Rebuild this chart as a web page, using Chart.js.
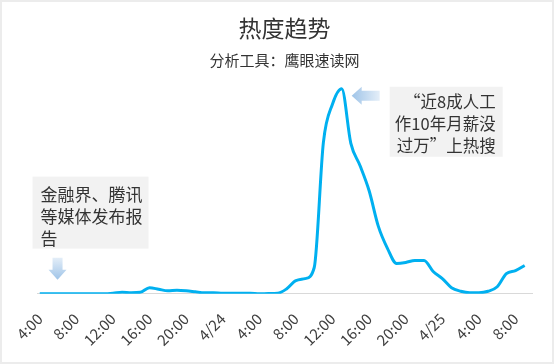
<!DOCTYPE html>
<html>
<head>
<meta charset="utf-8">
<script src="https://cdn.jsdelivr.net/npm/chart.js@4"></script>
<style>
    body { margin: 0; background: #fff; }
    #wrap { position: relative; width: 554px; height: 364px; }
    #frame { position: absolute; left: 0; top: 0; width: 554px; height: 364px; box-sizing: border-box; border: 2px solid #ececec; pointer-events: none; }
    canvas { position: absolute; left: 0; top: 0; }
</style>
</head>
<body>
<div id="wrap">
    <canvas id="heat-canvas" width="554" height="364"></canvas>
    <div id="frame"></div>
</div>
<script>
// hourly heat values, starting 4/23 4:00
const heatValues = [
    0, 0, 0, 0, 0, 0, 0, 0, 0.5, 1.5,
    1, 1.5, 6, 4.5, 3, 3.5, 3, 2, 1, 1,
    0.5, 0.5, 0.5, 0.5, 0, 0.3, 0.5, 5, 13, 15,
    26, 150, 188, 203, 149, 127, 102, 67, 45, 30,
    31, 33, 33, 22, 15, 6, 2.5, 1, 1, 2.5,
    7, 20, 23, 28
];
const hours = heatValues.map((v, i) => i);

const tickHours = [0, 4, 8, 12, 16, 20, 24, 28, 32, 36, 40, 44, 48, 52];
const tickLabels = ['4:00', '8:00', '12:00', '16:00', '20:00', '4/24', '4:00', '8:00', '12:00', '16:00', '20:00', '4/25', '4:00', '8:00'];

const chartTitle = '热度趋势';
const chartSubtitle = '分析工具：鹰眼速读网';

const noteLeft = ['金融界、腾讯', '等媒体发布报', '告'];
const noteRight = ['“近8成人工', '作10年月薪没', '过万”上热搜'];
const noteLeftHour = 2;
const notePeakHour = 33;

const FONT = '"Noto Sans CJK SC", "Noto Sans", sans-serif';

function blockArrow(ctx, dir, x, y, len, headLen, headW, shaftW) {
    // x, y = tip
    ctx.beginPath();
    if (dir === 'down') {
        ctx.moveTo(x, y);
        ctx.lineTo(x - headW / 2, y - headLen);
        ctx.lineTo(x - shaftW / 2, y - headLen);
        ctx.lineTo(x - shaftW / 2, y - len);
        ctx.lineTo(x + shaftW / 2, y - len);
        ctx.lineTo(x + shaftW / 2, y - headLen);
        ctx.lineTo(x + headW / 2, y - headLen);
    } else {
        ctx.moveTo(x, y);
        ctx.lineTo(x + headLen, y - headW / 2);
        ctx.lineTo(x + headLen, y - shaftW / 2);
        ctx.lineTo(x + len, y - shaftW / 2);
        ctx.lineTo(x + len, y + shaftW / 2);
        ctx.lineTo(x + headLen, y + shaftW / 2);
        ctx.lineTo(x + headLen, y + headW / 2);
    }
    ctx.closePath();
    ctx.fill();
}

const notesPlugin = {
    id: 'notes',
    afterDatasetsDraw(chart) {
        const ctx = chart.ctx;
        const xs = chart.scales.x;
        const ys = chart.scales.y;
        ctx.save();

        // left note + down arrow
        const ax = xs.getPixelForValue(noteLeftHour) - 0.5;
        const ay = ys.getPixelForValue(14);
        let g = ctx.createLinearGradient(0, ay - 22, 0, ay);
        g.addColorStop(0, '#e4eef8');
        g.addColorStop(1, '#9fc4e8');
        ctx.fillStyle = g;
        blockArrow(ctx, 'down', ax, ay, 22, 10, 18, 10);

        const bx = ax - 25, by = ay - 103;
        ctx.fillStyle = '#f2f2f2';
        ctx.fillRect(bx, by, 116, 72);
        ctx.fillStyle = '#333';
        ctx.font = '17px ' + FONT;
        ctx.textBaseline = 'middle';
        ctx.textAlign = 'left';
        noteLeft.forEach((t, i) => ctx.fillText(t, bx + 8, by + 18 + i * 22));

        // right note + left arrow pointing to peak
        const px = xs.getPixelForValue(notePeakHour) + 10;
        const py = ys.getPixelForValue(heatValues[notePeakHour]) + 7;
        g = ctx.createLinearGradient(px, 0, px + 28, 0);
        g.addColorStop(0, '#9fc4e8');
        g.addColorStop(1, '#e4eef8');
        ctx.fillStyle = g;
        blockArrow(ctx, 'left', px, py, 28, 10, 18, 10);

        const rx = px + 38, ry = py - 9;
        ctx.fillStyle = '#f2f2f2';
        ctx.fillRect(rx, ry, 113, 70);
        ctx.fillStyle = '#333';
        ctx.font = '16.5px ' + FONT;
        ctx.textAlign = 'right';
        noteRight.forEach((t, i) => ctx.fillText(t, rx + 106, ry + 15 + i * 22));

        ctx.restore();
    }
};

document.addEventListener('DOMContentLoaded', function () {
    const canvas = document.getElementById('heat-canvas').getContext('2d');

    new Chart(canvas, {
        type: 'line',
        data: {
            datasets: [{
                data: hours.map((h, i) => ({ x: h, y: heatValues[i] })),
                borderColor: '#00b0f0',
                borderWidth: 3,
                pointRadius: 0,
                cubicInterpolationMode: 'monotone',
                fill: false
            }]
        },
        options: {
            responsive: false,
            animation: false,
            devicePixelRatio: 1,
            layout: {
                padding: { left: 37, right: 22, top: 0, bottom: 7 }
            },
            scales: {
                x: {
                    type: 'linear',
                    min: -0.3,
                    max: 53.8,
                    afterBuildTicks: (scale) => {
                        scale.ticks = tickHours.map(v => ({ value: v }));
                    },
                    grid: { display: false },
                    border: { display: true, color: '#d9d9d9', width: 1 },
                    ticks: {
                        autoSkip: false,
                        minRotation: 45,
                        maxRotation: 45,
                        padding: 8,
                        color: '#404040',
                        font: { family: FONT, size: 15 },
                        callback: (v) => tickLabels[tickHours.indexOf(v)]
                    }
                },
                y: {
                    display: false,
                    min: 0,
                    max: 220
                }
            },
            plugins: {
                legend: { display: false },
                tooltip: { enabled: false },
                title: {
                    display: true,
                    text: chartTitle,
                    color: '#333',
                    font: { family: FONT, size: 23, weight: 'normal' },
                    padding: { top: 14, bottom: 2 }
                },
                subtitle: {
                    display: true,
                    text: chartSubtitle,
                    color: '#333',
                    font: { family: FONT, size: 15, weight: 'normal' },
                    padding: { top: 8, bottom: 2 }
                }
            }
        },
        plugins: [notesPlugin]
    });
});
</script>
</body>
</html>
